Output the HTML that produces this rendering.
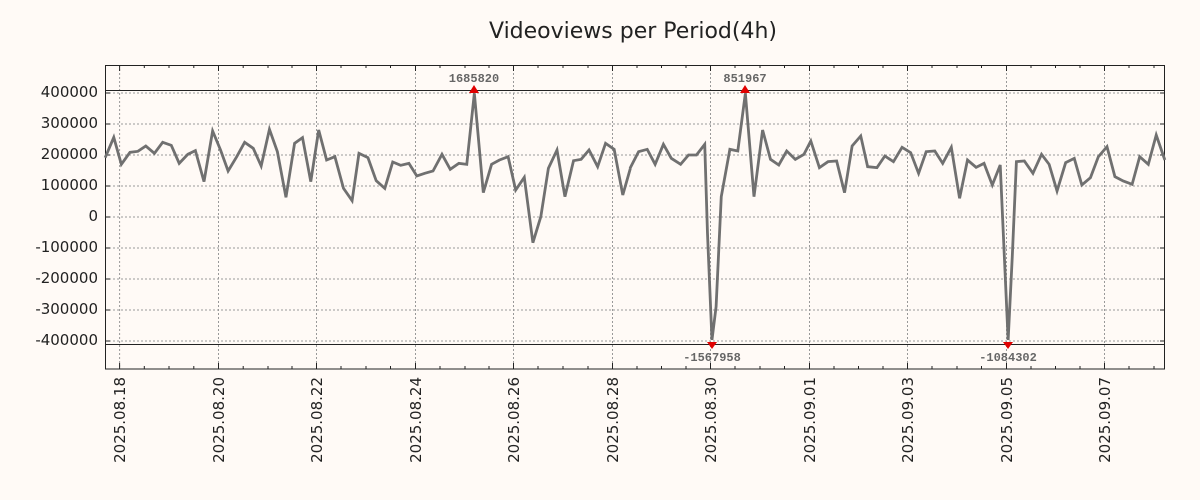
<!DOCTYPE html>
<html><head><meta charset="utf-8"><style>
body{margin:0;background:#fffaf6;}
svg{display:block;font-family:"DejaVu Sans","Liberation Sans",sans-serif;}
</style></head><body>
<svg width="1200" height="500" viewBox="0 0 1200 500" xmlns="http://www.w3.org/2000/svg">
<rect width="1200" height="500" fill="#fffaf6"/>
<text x="633" y="38" font-size="22" text-anchor="middle" fill="#222">Videoviews per Period(4h)</text>
<g stroke="#999" stroke-width="1" stroke-dasharray="2,2">
<line x1="105" x2="1165" y1="93" y2="93"/><line x1="105" x2="1165" y1="124" y2="124"/><line x1="105" x2="1165" y1="155" y2="155"/><line x1="105" x2="1165" y1="186" y2="186"/><line x1="105" x2="1165" y1="217" y2="217"/><line x1="105" x2="1165" y1="248" y2="248"/><line x1="105" x2="1165" y1="279" y2="279"/><line x1="105" x2="1165" y1="310" y2="310"/><line x1="105" x2="1165" y1="341" y2="341"/>
<line y1="65" y2="369" x1="119.6" x2="119.6"/><line y1="65" y2="369" x1="218.5" x2="218.5"/><line y1="65" y2="369" x1="316.5" x2="316.5"/><line y1="65" y2="369" x1="415.5" x2="415.5"/><line y1="65" y2="369" x1="513.5" x2="513.5"/><line y1="65" y2="369" x1="612.5" x2="612.5"/><line y1="65" y2="369" x1="710.5" x2="710.5"/><line y1="65" y2="369" x1="809.5" x2="809.5"/><line y1="65" y2="369" x1="907.5" x2="907.5"/><line y1="65" y2="369" x1="1006.5" x2="1006.5"/><line y1="65" y2="369" x1="1104.5" x2="1104.5"/>
</g>
<line x1="105" x2="1165" y1="90.5" y2="90.5" stroke="#222"/>
<line x1="105" x2="1165" y1="344.5" y2="344.5" stroke="#222"/>
<rect x="105.5" y="65.5" width="1059" height="303.5" fill="none" stroke="#222"/>
<g stroke="#222" stroke-width="1">
<path d="M119.6,369v-6M218.5,369v-6M316.5,369v-6M415.5,369v-6M513.5,369v-6M612.5,369v-6M710.5,369v-6M809.5,369v-6M907.5,369v-6M1006.5,369v-6M1104.5,369v-6
M119.6,65v6M218.5,65v6M316.5,65v6M415.5,65v6M513.5,65v6M612.5,65v6M710.5,65v6M809.5,65v6M907.5,65v6M1006.5,65v6M1104.5,65v6
M105,93h5M105,124h5M105,155h5M105,186h5M105,217h5M105,248h5M105,279h5M105,310h5M105,341h5
M1165,93h-5M1165,124h-5M1165,155h-5M1165,186h-5M1165,217h-5M1165,248h-5M1165,279h-5M1165,310h-5M1165,341h-5"/>
<path d="M144.3,369v-3M169,369v-3M193.8,369v-3M243.2,369v-3M268,369v-3M292,369v-3M341,369v-3M366,369v-3M390.5,369v-3M440,369v-3M465,369v-3M489,369v-3M538,369v-3M563,369v-3M588,369v-3M637,369v-3M661.5,369v-3M686,369v-3M735,369v-3M760,369v-3M784.5,369v-3M834,369v-3M858.5,369v-3M883,369v-3M932,369v-3M957,369v-3M981.5,369v-3M1031,369v-3M1055.5,369v-3M1080,369v-3M1129,369v-3M1154,369v-3
M144.3,65v3M169,65v3M193.8,65v3M243.2,65v3M268,65v3M292,65v3M341,65v3M366,65v3M390.5,65v3M440,65v3M465,65v3M489,65v3M538,65v3M563,65v3M588,65v3M637,65v3M661.5,65v3M686,65v3M735,65v3M760,65v3M784.5,65v3M834,65v3M858.5,65v3M883,65v3M932,65v3M957,65v3M981.5,65v3M1031,65v3M1055.5,65v3M1080,65v3M1129,65v3M1154,65v3"/>
</g>
<g fill="none" stroke="#707070" stroke-width="2.8" stroke-linejoin="miter">
<g transform="translate(100,60) scale(0.34439,0.33333)">
<polyline vector-effect="non-scaling-stroke" points="15,293 40,232 62,313 87,277 110,274 133,258 158,280 182,247 207,256 230,310 255,283 277,272 302,365 327,213 350,270 372,333 397,290 420,247 445,265 468,318 492,208 515,275 540,412 565,250 588,233 612,365 635,210 658,300 682,290 707,385 732,422 752,280 778,293 802,362 827,385 850,306 873,316 897,310 920,348 943,340 967,333 993,283 1017,328 1042,310 1065,313 1087,100 1113,398 1137,313 1160,300 1185,290 1207,390 1232,352 1257,548 1280,470 1302,325 1327,270 1350,410 1375,302 1397,298 1420,270 1445,320 1468,250 1493,268 1518,405 1540,325"/>
</g>
<g transform="translate(630,60) scale(0.34439,0.33333)">
<polyline vector-effect="non-scaling-stroke" points="0,325 25,275 50,268 73,313 97,253 120,295 147,313 170,285 193,285 217,253 225,520 238,840 250,740 265,410 290,268 313,273 335,100 360,410 385,210 408,298 432,315 455,273 480,298 505,283 525,243 550,323 575,305 600,303 623,398 645,258 670,228 690,320 717,323 740,288 765,305 790,262 815,278 838,340 860,275 885,273 908,310 933,262 957,415 980,300 1005,322 1028,310 1052,375 1075,315 1087,590 1098,840 1110,590 1122,305 1145,303 1170,340 1195,283 1217,313 1240,393 1265,308 1290,295 1312,375 1337,353 1360,290 1385,260 1408,350 1432,363 1458,373 1480,290 1505,313 1528,225 1553,300"/>
</g>
</g>
<g fill="#e00000">
<polygon points="474,85 469,93 479,93"/><polygon points="745,85 740,93 750,93"/>
<polygon points="712,349 707,342 717,342"/><polygon points="1008,349 1003,342 1013,342"/>
</g>
<g font-family="'Liberation Mono',monospace" font-size="12" font-weight="bold" fill="#666" text-anchor="middle">
<text x="474" y="82">1685820</text><text x="745" y="82">851967</text>
<text x="712" y="361">-1567958</text><text x="1008" y="361">-1084302</text>
</g>
<g font-size="15" fill="#222" text-anchor="end">
<text x="98" y="97">400000</text><text x="98" y="128">300000</text><text x="98" y="159">200000</text><text x="98" y="190">100000</text><text x="98" y="221">0</text><text x="98" y="252">-100000</text><text x="98" y="283">-200000</text><text x="98" y="314">-300000</text><text x="98" y="345">-400000</text>
</g>
<g font-size="15" fill="#222" text-anchor="end">
<text transform="translate(125,377) rotate(-90)">2025.08.18</text>
<text transform="translate(224,377) rotate(-90)">2025.08.20</text>
<text transform="translate(322,377) rotate(-90)">2025.08.22</text>
<text transform="translate(421,377) rotate(-90)">2025.08.24</text>
<text transform="translate(519,377) rotate(-90)">2025.08.26</text>
<text transform="translate(618,377) rotate(-90)">2025.08.28</text>
<text transform="translate(716,377) rotate(-90)">2025.08.30</text>
<text transform="translate(815,377) rotate(-90)">2025.09.01</text>
<text transform="translate(913,377) rotate(-90)">2025.09.03</text>
<text transform="translate(1012,377) rotate(-90)">2025.09.05</text>
<text transform="translate(1110,377) rotate(-90)">2025.09.07</text>
</g>
</svg>
</body></html>
